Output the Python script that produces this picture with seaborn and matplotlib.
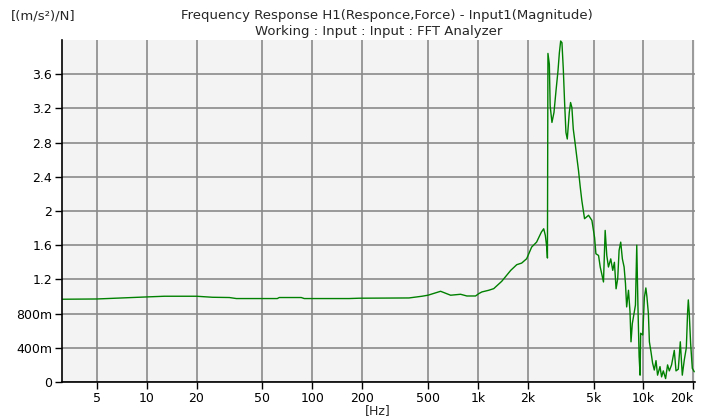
import numpy as np
import pandas as pd
import matplotlib
matplotlib.use("Agg")
import matplotlib.pyplot as plt
import seaborn as sns

# --- data ---
freq_hz = [3.08, 5, 10, 12.8, 20, 25, 31.6, 34.8, 61.5, 63.2, 85.8, 89.5, 167, 192, 384, 460, 500,
           596, 685, 787, 859, 969, 1014, 1057, 1165, 1248, 1395, 1581, 1718, 1841, 1973, 2114,
           2265, 2420, 2500, 2558, 2614, 2633, 2652, 2704, 2735, 2804, 2884, 2966, 3049, 3109,
           3165, 3222, 3284, 3343, 3406, 3470, 3568, 3633, 3700, 3772, 3865, 3964, 4058, 4156,
           4250, 4412, 4537, 4665, 4887, 5072, 5167, 5360, 5487, 5625, 5741, 5877, 6011, 6151,
           6352, 6530, 6684, 6840, 6998, 7134, 7296, 7466, 7648, 7796, 7925, 8128, 8303, 8418,
           8574, 8814, 8954, 9120, 9268, 9423, 9554, 9629, 9910, 10140, 10350, 10500, 10720,
           10870, 11120, 11370, 11640, 11920, 12180, 12600, 12880, 13190, 13620, 14000, 14340,
           14800, 15370, 15740, 16250, 16710, 17180, 17670, 18170, 18500, 18680, 18930, 19290,
           19750, 20290]
magnitude = [0.968, 0.971, 0.995, 1.003, 1.003, 0.991, 0.988, 0.976, 0.976, 0.988, 0.988, 0.976,
             0.976, 0.980, 0.983, 1.003, 1.015, 1.061, 1.015, 1.026, 1.006, 1.006, 1.034, 1.053,
             1.073, 1.092, 1.178, 1.306, 1.372, 1.391, 1.442, 1.578, 1.636, 1.753, 1.792, 1.714,
             1.559, 1.45, 3.843, 3.717, 3.23, 3.036, 3.152, 3.405, 3.638, 3.852, 3.988, 3.969,
             3.657, 3.269, 2.919, 2.842, 3.152, 3.269, 3.21, 2.958, 2.80, 2.627, 2.47, 2.28,
             2.12, 1.91, 1.93, 1.95, 1.89, 1.69, 1.50, 1.48, 1.345, 1.25, 1.17, 1.773, 1.48,
             1.345, 1.44, 1.306, 1.40, 1.09, 1.21, 1.54, 1.636, 1.44, 1.345, 1.15, 0.878, 1.073,
             0.82, 0.47, 0.684, 0.82, 0.9, 1.60, 0.9, 0.30, 0.08, 0.57, 0.55, 0.99, 1.10, 1.0,
             0.80, 0.47, 0.35, 0.22, 0.14, 0.25, 0.08, 0.18, 0.06, 0.13, 0.04, 0.20, 0.13, 0.2,
             0.37, 0.13, 0.15, 0.47, 0.08, 0.26, 0.40, 0.82, 0.96, 0.80, 0.45, 0.16, 0.12]

x_ticks = [5, 10, 20, 50, 100, 200, 500, 1000, 2000, 5000, 10000, 20000]
x_tick_labels = ["5", "10", "20", "50", "100", "200", "500", "1k", "2k", "5k", "10k", "20k"]
y_ticks = [0, 0.4, 0.8, 1.2, 1.6, 2.0, 2.4, 2.8, 3.2, 3.6]
y_tick_labels = ["0", "400m", "800m", "1.2", "1.6", "2", "2.4", "2.8", "3.2", "3.6"]

title_line1 = "Frequency Response H1(Responce,Force) - Input1(Magnitude)"
title_line2 = "Working : Input : Input : FFT Analyzer"
y_unit = "[(m/s²)/N]"
x_unit = "[Hz]"

df = pd.DataFrame({"freq": freq_hz, "mag": magnitude})

sns.set_style("white")
plt.rcParams["font.family"] = ["DejaVu Sans"]

fig = plt.figure(figsize=(7.02, 4.18), dpi=100)
ax = fig.add_axes([62 / 702, 1 - 382 / 418, (695 - 62) / 702, (382 - 40) / 418])
ax.set_facecolor("#f3f3f3")

sns.lineplot(data=df, x="freq", y="mag", ax=ax, color="#008000", linewidth=1.0,
             estimator=None, sort=False)

ax.set_xscale("log")
ax.set_xlim(3.08, 20500)
ax.set_ylim(0, 4.0)
ax.set_xticks(x_ticks)
ax.set_xticklabels(x_tick_labels)
ax.xaxis.set_minor_locator(matplotlib.ticker.NullLocator())
ax.set_yticks(y_ticks)
ax.set_yticklabels(y_tick_labels)
ax.set_xlabel("")
ax.set_ylabel("")

ax.grid(True, which="major", color="#8a8a8a", linewidth=1.2)
ax.set_axisbelow(True)
for s in ["top", "right"]:
    ax.spines[s].set_visible(False)
for s in ["left", "bottom"]:
    ax.spines[s].set_color("black")
    ax.spines[s].set_linewidth(1.2)
ax.tick_params(axis="both", direction="out", length=5, width=1, color="black",
               labelsize=9, labelcolor="black", left=True, bottom=True, pad=2)

# last x label sits to the left of its tick, as in the reference
ax.get_xticklabels()[-1].set_horizontalalignment("right")
ax.get_xticklabels()[-1].set_x(20000)

fig.text(387 / 702, 1 - 16 / 418, title_line1, ha="center", va="center", fontsize=9.5)
fig.text(379 / 702, 1 - 32 / 418, title_line2, ha="center", va="center", fontsize=9.5)
fig.text(11 / 702, 1 - 16 / 418, y_unit, ha="left", va="center", fontsize=9.5)
fig.text(378 / 702, 1 - 411 / 418, x_unit, ha="center", va="center", fontsize=9)

fig.savefig("out.png", dpi=100, facecolor="white")
